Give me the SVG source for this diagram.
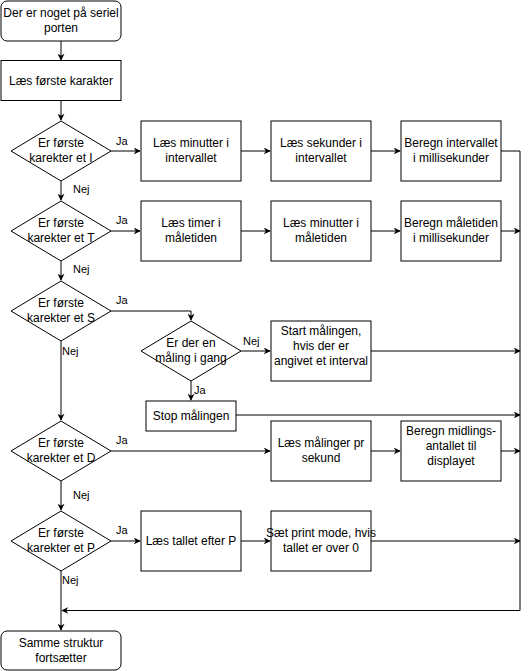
<svg xmlns="http://www.w3.org/2000/svg" width="529" height="671" viewBox="0 0 529 671">
<defs>
<marker id="arr" viewBox="0 0 10 10" refX="9" refY="5" markerWidth="7" markerHeight="7" markerUnits="userSpaceOnUse" orient="auto">
<path d="M0,0 L10,5 L0,10 L3,5 Z" fill="#000"/>
</marker>
<style>
.n{fill:#fff;stroke:#000;stroke-width:1}
.t{font-family:"Liberation Sans",Arial,sans-serif;font-size:12px;fill:#000;text-anchor:middle}
.l{font-family:"Liberation Sans",Arial,sans-serif;font-size:11px;fill:#000}
.c{fill:none;stroke:#000;stroke-width:1;marker-end:url(#arr)}
.p{fill:none;stroke:#000;stroke-width:1}
</style>
</defs>
<rect width="529" height="671" fill="#fff"/>
<g id="connectors">
<path class="c" d="M61,41 V60"/>
<path class="c" d="M61,101 V120"/>
<path class="c" d="M111,151 H140"/>
<path class="c" d="M241,151 H270"/>
<path class="c" d="M371,151 H400"/>
<path class="p" d="M501,151 H520 V610.5"/>
<path class="c" d="M61,181 V200"/>
<path class="c" d="M111,231 H140"/>
<path class="c" d="M241,231 H270"/>
<path class="c" d="M371,231 H400"/>
<path class="c" d="M501,231 H520"/>
<path class="c" d="M61,261 V280"/>
<path class="c" d="M111,311 H191 V320"/>
<path class="c" d="M241,351 H270"/>
<path class="c" d="M371,351 H520"/>
<path class="c" d="M191,381 V400"/>
<path class="c" d="M236,415 H520"/>
<path class="c" d="M61,341 V420"/>
<path class="c" d="M111,451 H270"/>
<path class="c" d="M371,451 H400"/>
<path class="c" d="M501,451 H520"/>
<path class="c" d="M61,481 V510"/>
<path class="c" d="M111,541 H140"/>
<path class="c" d="M241,541 H270"/>
<path class="c" d="M371,541 H520"/>
<path class="c" d="M520,610.5 H62"/>
<path class="c" d="M61,571 V630"/>
<text class="l" x="116" y="145">Ja</text>
<text class="l" x="73" y="193">Nej</text>
<text class="l" x="116" y="224">Ja</text>
<text class="l" x="73" y="273">Nej</text>
<text class="l" x="116" y="304">Ja</text>
<text class="l" x="62" y="355">Nej</text>
<text class="l" x="243" y="345">Nej</text>
<text class="l" x="194" y="394">Ja</text>
<text class="l" x="116" y="444">Ja</text>
<text class="l" x="73" y="499">Nej</text>
<text class="l" x="116" y="534">Ja</text>
<text class="l" x="62" y="584">Nej</text>
</g>
<g id="start"><rect class="n" x="1" y="1" width="120" height="40" rx="6"/><text class="t" x="61" y="17">Der er noget på seriel</text><text class="t" x="61" y="32">porten</text></g>
<g id="readFirst"><rect class="n" x="1" y="60.5" width="120" height="40"/><text class="t" x="61" y="85">Læs første karakter</text></g>
<g id="dI"><polygon class="n" points="61,121 111,151 61,181 11,151"/><text class="t" x="61" y="147">Er første</text><text class="t" x="61" y="162">karekter et I</text></g>
<g id="i1"><rect class="n" x="141" y="121" width="100" height="60"/><text class="t" x="191" y="147">Læs minutter i</text><text class="t" x="191" y="162">intervallet</text></g>
<g id="i2"><rect class="n" x="271" y="121" width="100" height="60"/><text class="t" x="321" y="147">Læs sekunder i</text><text class="t" x="321" y="162">intervallet</text></g>
<g id="i3"><rect class="n" x="401" y="121" width="100" height="60"/><text class="t" x="451" y="147">Beregn intervallet</text><text class="t" x="451" y="162">i millisekunder</text></g>
<g id="dT"><polygon class="n" points="61,201 111,231 61,261 11,231"/><text class="t" x="61" y="227">Er første</text><text class="t" x="61" y="242">karekter et T</text></g>
<g id="t1"><rect class="n" x="141" y="201" width="100" height="60"/><text class="t" x="191" y="227">Læs timer i</text><text class="t" x="191" y="242">måletiden</text></g>
<g id="t2"><rect class="n" x="271" y="201" width="100" height="60"/><text class="t" x="321" y="227">Læs minutter i</text><text class="t" x="321" y="242">måletiden</text></g>
<g id="t3"><rect class="n" x="401" y="201" width="100" height="60"/><text class="t" x="451" y="227">Beregn måletiden</text><text class="t" x="451" y="242">i millisekunder</text></g>
<g id="dS"><polygon class="n" points="61,281 111,311 61,341 11,311"/><text class="t" x="61" y="307">Er første</text><text class="t" x="61" y="322">karekter et S</text></g>
<g id="dRun"><polygon class="n" points="191,321 241,351 191,381 141,351"/><text class="t" x="191" y="347">Er der en</text><text class="t" x="191" y="362">måling i gang</text></g>
<g id="sStart"><rect class="n" x="271" y="321" width="100" height="60"/><text class="t" x="321" y="335">Start målingen,</text><text class="t" x="321" y="350">hvis der er</text><text class="t" x="321" y="365">angivet et interval</text></g>
<g id="sStop"><rect class="n" x="146" y="401" width="90" height="30"/><text class="t" x="191" y="420">Stop målingen</text></g>
<g id="dD"><polygon class="n" points="61,421 111,451 61,481 11,451"/><text class="t" x="61" y="447">Er første</text><text class="t" x="61" y="462">karekter et D</text></g>
<g id="d1"><rect class="n" x="271" y="421" width="100" height="60"/><text class="t" x="321" y="447">Læs målinger pr</text><text class="t" x="321" y="462">sekund</text></g>
<g id="d2"><rect class="n" x="401" y="421" width="100" height="60"/><text class="t" x="451" y="435">Beregn midlings-</text><text class="t" x="451" y="450">antallet til</text><text class="t" x="451" y="465">displayet</text></g>
<g id="dP"><polygon class="n" points="61,511 111,541 61,571 11,541"/><text class="t" x="61" y="537">Er første</text><text class="t" x="61" y="552">karekter et P</text></g>
<g id="p1"><rect class="n" x="141" y="511" width="100" height="60"/><text class="t" x="191" y="545">Læs tallet efter P</text></g>
<g id="p2"><rect class="n" x="271" y="511" width="100" height="60"/><text class="t" x="321" y="537">Sæt print mode, hvis</text><text class="t" x="321" y="552">tallet er over 0</text></g>
<g id="end"><rect class="n" x="1" y="631" width="120" height="39" rx="6"/><text class="t" x="61" y="647">Samme struktur</text><text class="t" x="61" y="662">fortsætter</text></g>
</svg>
